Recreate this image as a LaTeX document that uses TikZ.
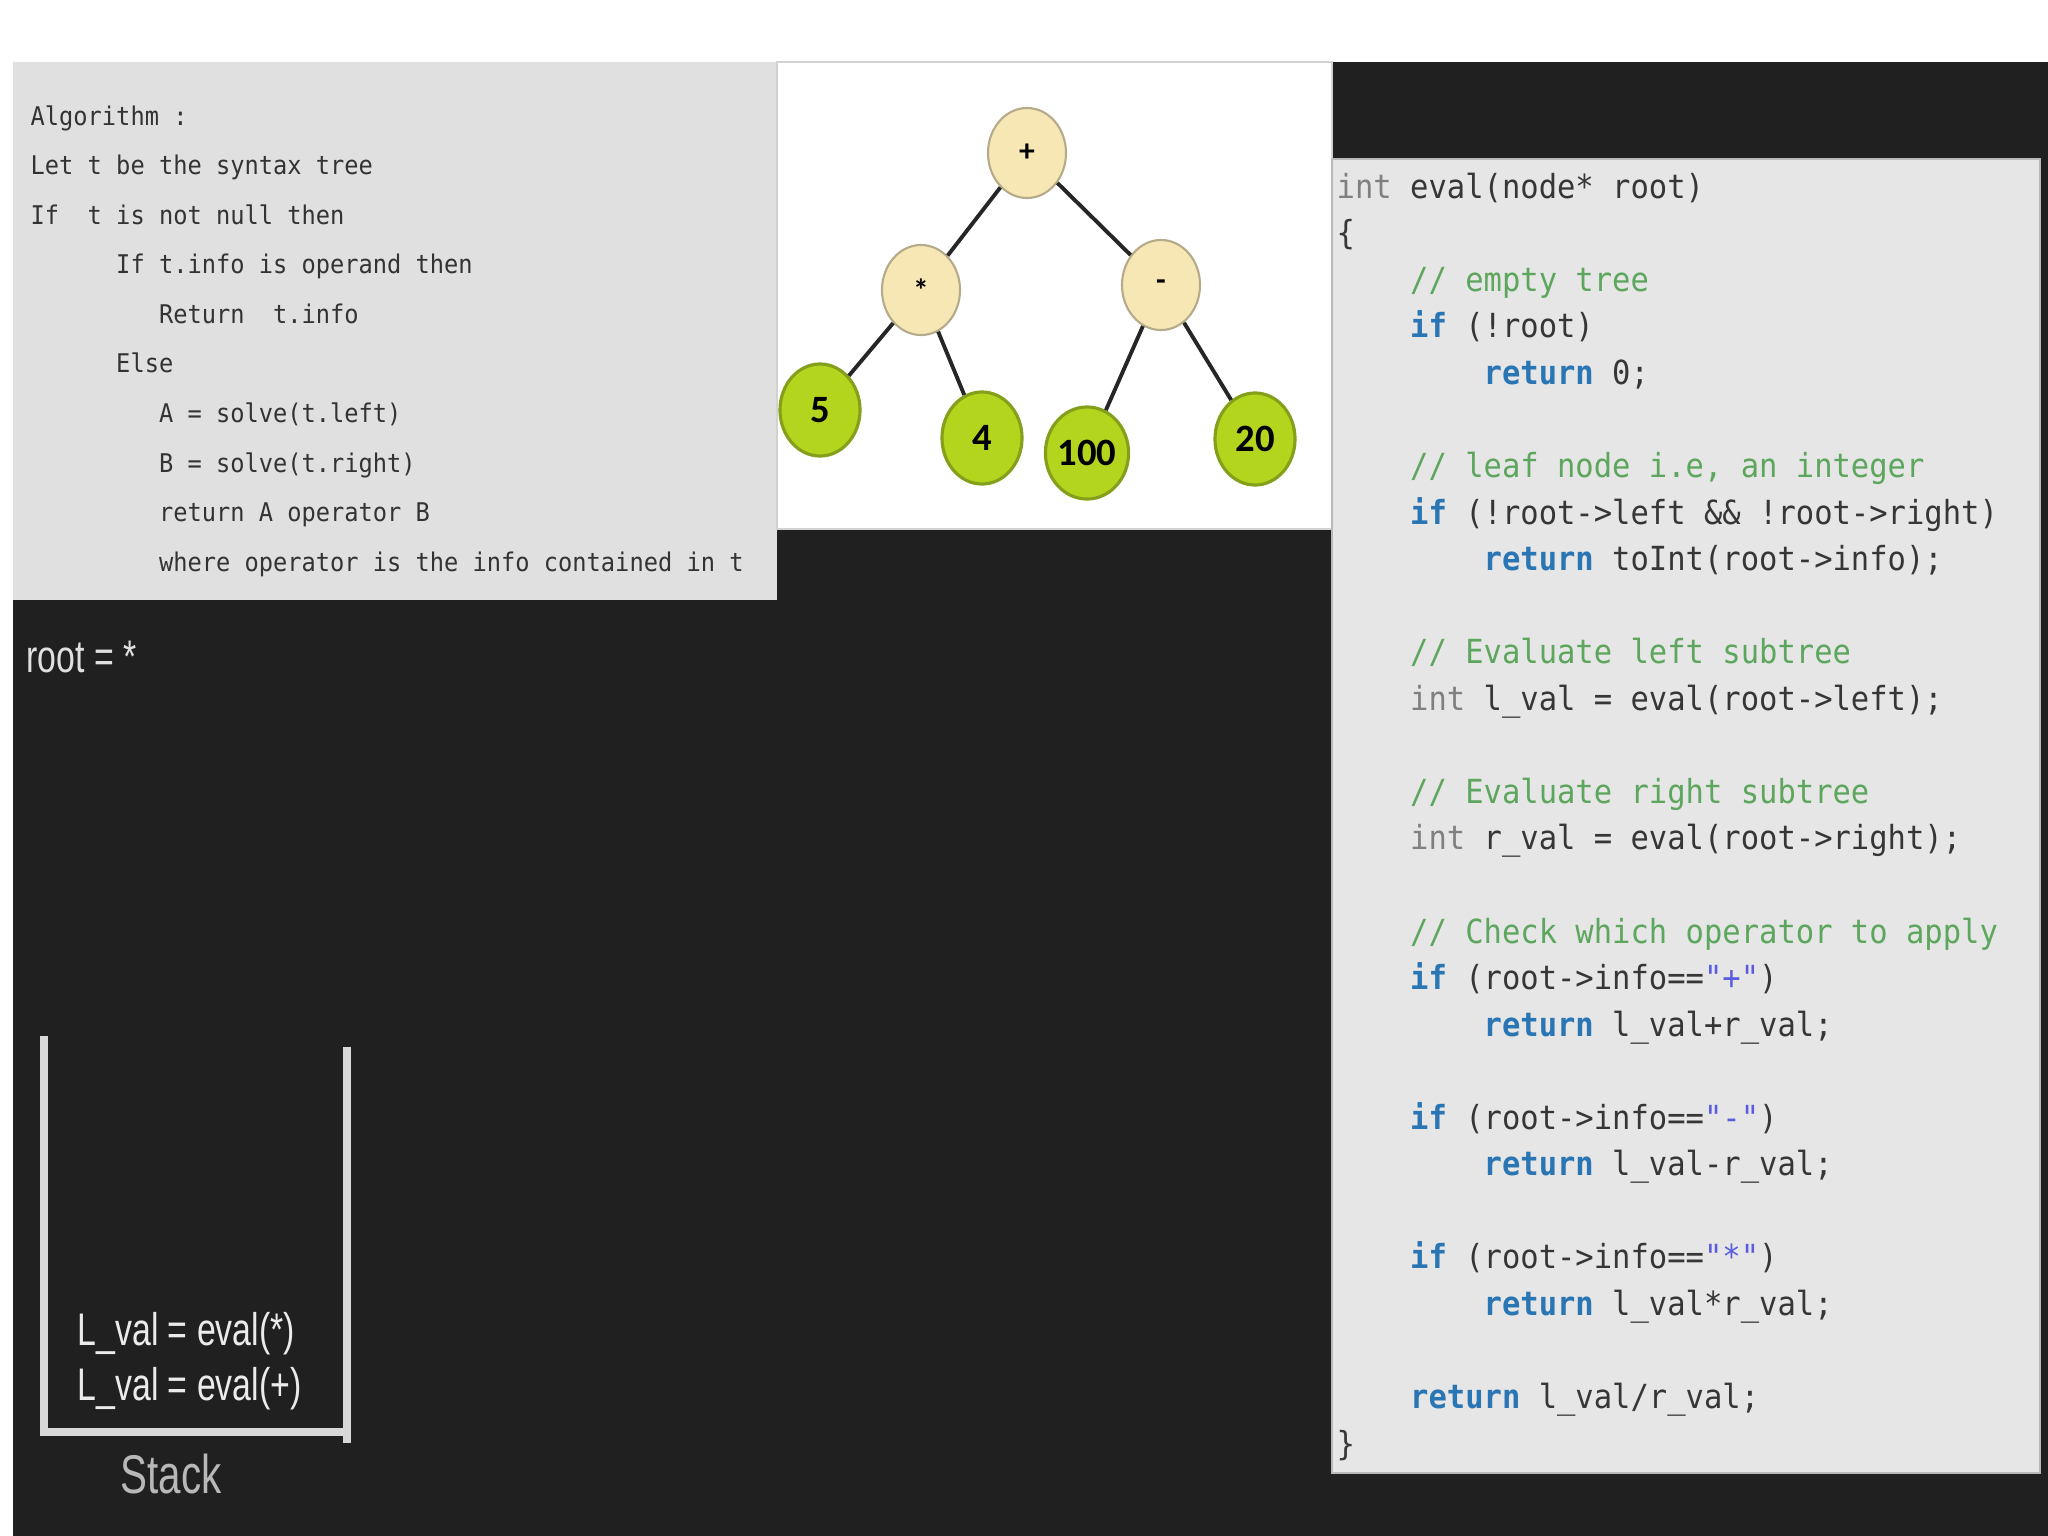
\documentclass[tikz,border=0pt]{standalone}
\usepackage{fontspec}
\usetikzlibrary{shapes.geometric}
\newfontfamily\codefont{DejaVu Sans Mono}[FakeStretch=0.92]
\newfontfamily\narrowfont{Liberation Sans}[FakeStretch=0.74]
\newfontfamily\leaffont{Carlito}
\definecolor{slatebg}{HTML}{202020}
\definecolor{algfill}{HTML}{E0E0E0}
\definecolor{algtextc}{HTML}{333333}
\definecolor{codefill}{HTML}{E6E6E6}
\definecolor{codetextc}{HTML}{363636}
\definecolor{opfill}{HTML}{F6E7B4}
\definecolor{opline}{HTML}{B5AA8A}
\definecolor{leaffill}{HTML}{B4D51E}
\definecolor{leafline}{HTML}{84A01A}
\definecolor{kwblue}{HTML}{2A75B3}
\definecolor{cmgreen}{HTML}{5DA65D}
\definecolor{tygray}{HTML}{808080}
\definecolor{strblue}{HTML}{5B5BE0}
\definecolor{stackline}{HTML}{D8D8D8}
\newcommand\kwd[1]{\textcolor{kwblue}{\bfseries #1}}
\newcommand\cmt[1]{\textcolor{cmgreen}{#1}}
\newcommand\typ[1]{\textcolor{tygray}{#1}}
\newcommand\lit[1]{\textcolor{strblue}{#1}}
\newcommand\ind{\hphantom{0000}}
\newcommand\indA{\hphantom{000000}}
\newcommand\indB{\hphantom{000000000}}

\begin{document}
\begin{tikzpicture}[x=0.01cm,y=-0.01cm,
 opnode/.style={ellipse,draw=opline,fill=opfill,line width=0.6pt,minimum width=0.78cm,
  minimum height=0.90cm,inner sep=0pt,font=\leaffont\bfseries\fontsize{9}{9}\selectfont},
 leafnode/.style={ellipse,draw=leafline,fill=leaffill,line width=0.9pt,minimum width=0.80cm,
  minimum height=0.92cm,inner sep=0pt,font=\leaffont\bfseries\fontsize{11}{11}\selectfont},
 branch/.style={line width=1.1pt,black!85},
 algtext/.style={anchor=north west,inner sep=0pt,align=left,text=algtextc,
  font=\codefont\fontsize{7.32}{14.08}\selectfont},
 codetext/.style={anchor=north west,inner sep=0pt,align=left,text=codetextc,
  font=\codefont\fontsize{9.43}{13.24}\selectfont},
 stacktext/.style={anchor=base west,inner sep=0pt,text=white!92!black,
  font=\narrowfont\fontsize{13}{13}\selectfont},
 stackwall/.style={line width=2.2pt,stackline}]
\useasboundingbox (0,0) rectangle (2048,1536);
% panels
\fill[white] (0,0) rectangle (2048,1536);
\fill[slatebg] (13,62) rectangle (2048,1536);
\fill[algfill] (13,62) rectangle (777,600);
\draw[gray!35,fill=white] (777,62) rectangle (1332,529);
\draw[gray!55,fill=codefill] (1332,159) rectangle (2040,1473);
% algorithm
\node[algtext] (algo) at (30,105) {Algorithm :\\
Let t be the syntax tree\\
If\ \ t is not null then\\
\indA If t.info is operand then\\
\indB Return\ \ t.info\\
\indA Else\\
\indB A = solve(t.left)\\
\indB B = solve(t.right)\\
\indB return A operator B\\
\indB where operator is the info contained in t};
% expression tree
\node[opnode] (plus) at (1027,153) {+};
\node[opnode] (times) at (921,290) {*};
\node[opnode] (minus) at (1161,285) {-};
\node[leafnode] (five) at (820,410) {5};
\node[leafnode] (four) at (982,438) {4};
\node[leafnode] (hundred) at (1087,453) {100};
\node[leafnode] (twenty) at (1255,439) {20};
\draw[branch] (plus) -- (times);
\draw[branch] (plus) -- (minus);
\draw[branch] (times) -- (five);
\draw[branch] (times) -- (four);
\draw[branch] (minus) -- (hundred);
\draw[branch] (minus) -- (twenty);
% code listing
\node[codetext] (code) at (1336,172) {\typ{int} eval(node* root)\\
\{\\
\ind\cmt{// empty tree}\\
\ind\kwd{if} (!root)\\
\ind\ind\kwd{return} 0;\\
\mbox{}\\
\ind\cmt{// leaf node i.e, an integer}\\
\ind\kwd{if} (!root->left \&\& !root->right)\\
\ind\ind\kwd{return} toInt(root->info);\\
\mbox{}\\
\ind\cmt{// Evaluate left subtree}\\
\ind\typ{int} l\_val = eval(root->left);\\
\mbox{}\\
\ind\cmt{// Evaluate right subtree}\\
\ind\typ{int} r\_val = eval(root->right);\\
\mbox{}\\
\ind\cmt{// Check which operator to apply}\\
\ind\kwd{if} (root->info==\lit{"+"})\\
\ind\ind\kwd{return} l\_val+r\_val;\\
\mbox{}\\
\ind\kwd{if} (root->info==\lit{"-"})\\
\ind\ind\kwd{return} l\_val-r\_val;\\
\mbox{}\\
\ind\kwd{if} (root->info==\lit{"*"})\\
\ind\ind\kwd{return} l\_val*r\_val;\\
\mbox{}\\
\ind\kwd{return} l\_val/r\_val;\\
\}};
% call stack
\node[stacktext,text=white!88!black] (rootval) at (26,672) {root = *};
\draw[stackwall] (44,1036) -- (44,1432) -- (347,1432);
\draw[stackwall] (347,1047) -- (347,1443);
\node[stacktext] (timesentry) at (77,1345) {L\_val = eval(*)};
\node[stacktext] (plusentry) at (77,1400) {L\_val = eval(+)};
\node[stacktext,text=white!72!black,font=\narrowfont\fontsize{15.5}{15.5}\selectfont]
 (stacklabel) at (120,1493) {Stack};
\end{tikzpicture}
\end{document}
